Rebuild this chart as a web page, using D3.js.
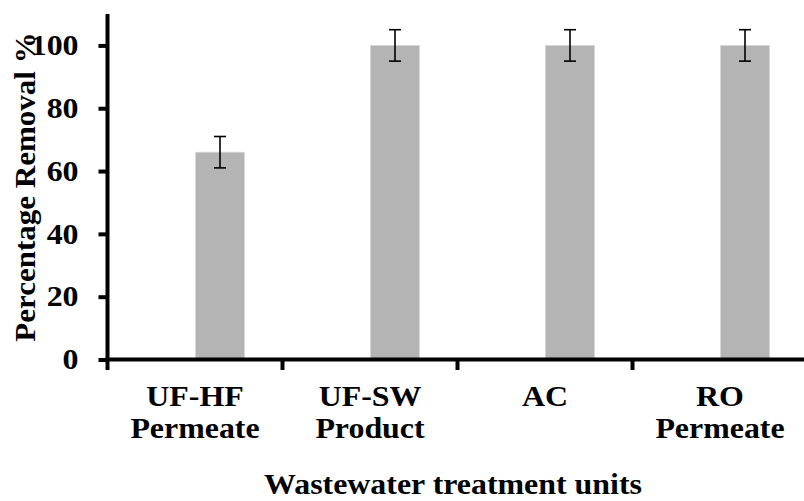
<!DOCTYPE html>
<html><head><meta charset="utf-8">
<script src="https://cdn.jsdelivr.net/npm/d3@7"></script>
<style>body{margin:0;background:#fff}svg{display:block}text{font-family:"Liberation Serif","Times New Roman",serif;font-weight:bold;fill:#000}</style>
</head><body>
<script>
const categories = [["UF-HF","Permeate"],["UF-SW","Product"],["AC",""],["RO","Permeate"]];
const values = [66, 100, 100, 100];
const errors = [5, 5, 5, 5];
const yTicks = [0, 20, 40, 60, 80, 100];
const yTitle = "Percentage Removal %";
const xTitle = "Wastewater treatment units";

const W = 804, H = 501;
const SX = 1.1;
const svg = d3.select("body").append("svg").attr("width", W).attr("height", H);
const keys = categories.map((c,i)=>i);
const x = d3.scaleBand().domain(keys).range([107.5, 807.5]).padding(0);
const y = d3.scaleLinear().domain([0, 110]).range([359.5, 14]);
const barW = 49;

// bars
svg.append("g").selectAll("rect").data(values).join("rect")
  .attr("x", (d,i)=>x(i)+x.bandwidth()/2+0.5)
  .attr("width", barW)
  .attr("y", d=>y(d))
  .attr("height", d=>y(0)-y(d))
  .attr("fill", "#b4b4b4")
  .attr("stroke", "#d6d6d6").attr("stroke-width", 0.8);

// error bars
const eb = svg.append("g").attr("stroke", "#000").attr("stroke-width", 1.6);
values.forEach((v,i)=>{
  const cx = x(i)+x.bandwidth()/2+0.5+barW/2;
  eb.append("line").attr("x1",cx).attr("x2",cx).attr("y1",y(v+errors[i])).attr("y2",y(v-errors[i]));
  eb.append("line").attr("x1",cx-6).attr("x2",cx+6).attr("y1",y(v+errors[i])).attr("y2",y(v+errors[i]));
  eb.append("line").attr("x1",cx-6).attr("x2",cx+6).attr("y1",y(v-errors[i])).attr("y2",y(v-errors[i]));
});

// y axis
const yAxis = svg.append("g").attr("transform","translate(107.5,0)")
  .call(d3.axisLeft(y).tickValues(yTicks).tickSize(9).tickPadding(20).tickSizeOuter(0));
yAxis.select(".domain").remove();
yAxis.append("line").attr("x1",0).attr("x2",0).attr("y1",y(110)).attr("y2",370).attr("stroke","#000").attr("stroke-width",4);
yAxis.selectAll(".tick line").attr("stroke","#000").attr("stroke-width",4);
yAxis.selectAll(".tick text").attr("font-size",29).attr("font-family","Liberation Serif").attr("font-weight","bold").attr("fill","#000")
  .attr("x", -29/SX).attr("transform", `scale(${SX},1)`);

// x axis
const xg = svg.append("g");
xg.append("line").attr("x1",105.5).attr("x2",810).attr("y1",y(0)).attr("y2",y(0)).attr("stroke","#000").attr("stroke-width",4);
const bounds = keys.map(i=>x(i)+x.bandwidth());
xg.selectAll("line.tk").data(bounds).join("line").attr("class","tk")
  .attr("x1",d=>d).attr("x2",d=>d).attr("y1",y(0)).attr("y2",370).attr("stroke","#000").attr("stroke-width",4);
const lab = xg.selectAll("g.cat").data(categories).join("g").attr("class","cat")
  .attr("transform",(d,i)=>`translate(${x(i)+x.bandwidth()/2},0) scale(${SX},1)`)
  .append("text").attr("text-anchor","middle").attr("font-size",29);
lab.append("tspan").attr("x",0).attr("y",406.5).text(d=>d[0]);
lab.append("tspan").attr("x",0).attr("y",438).text(d=>d[1]);

// titles
svg.append("g").attr("transform",`translate(453,0) scale(${SX},1)`)
  .append("text").attr("x",0).attr("y",494).attr("text-anchor","middle").attr("font-size",29).text(xTitle);
svg.append("text").attr("transform","translate(35,187) rotate(-90) scale(1.07,1)").attr("text-anchor","middle").attr("font-size",29).text(yTitle);
</script>
</body></html>
